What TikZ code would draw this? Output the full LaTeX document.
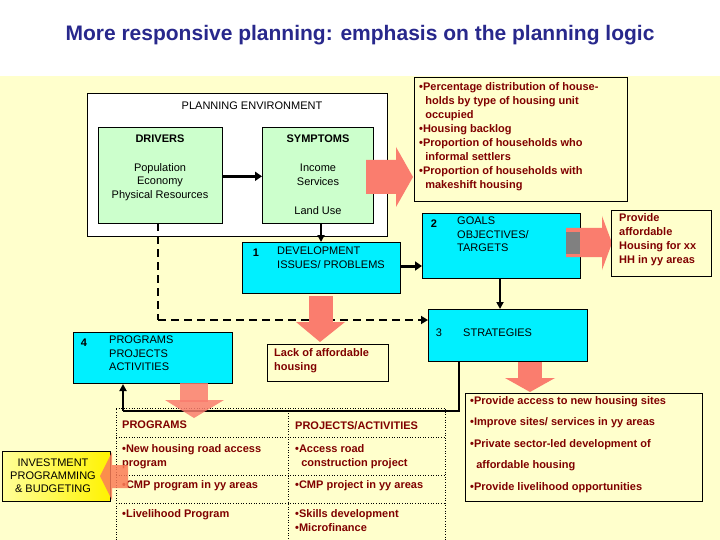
\documentclass[tikz,border=0pt]{standalone}
\usepackage{fontspec}
\setmainfont{Liberation Sans}
\usetikzlibrary{arrows.meta,shapes.arrows}
\definecolor{bgy}{RGB}{255,255,204}
\definecolor{cy}{RGB}{0,240,255}
\definecolor{gr}{RGB}{204,255,204}
\definecolor{pk}{RGB}{250,125,110}
\definecolor{dr}{RGB}{128,0,0}
\definecolor{ttl}{RGB}{40,40,140}
\newcommand{\bl}{{\fontsize{11}{11}\selectfont •}}
\tikzset{
 cbox/.style={draw=black,fill=cy,line width=1pt,anchor=north west,inner sep=0pt},
 gbox/.style={draw=black,fill=gr,line width=0.6pt,anchor=north west,inner sep=0pt},
 rbox/.style={draw=black,fill=bgy,line width=0.6pt,anchor=north west,inner sep=0pt},
 txt/.style={font=\fontsize{11}{13.5}\selectfont,align=left,inner sep=0pt},
 rtxt/.style={font=\fontsize{11}{14}\selectfont\bfseries,text=dr,align=left,inner sep=0pt,anchor=north west},
 ar/.style={-{Triangle[length=7pt,width=9pt]},line width=3pt},
 thin/.style={-{Triangle[length=7pt,width=7pt]},line width=2.2pt},
 tb/.style={draw=black,dotted,line width=0.6pt}
}
\begin{document}
\begin{tikzpicture}[x=1pt,y=-1pt]
\useasboundingbox (0,0) rectangle (720,540);
\fill[white] (0,0) rectangle (720,76);
\fill[bgy] (0,76) rectangle (720,540);
\node[font=\fontsize{21}{24}\selectfont\bfseries,text=ttl] (title) at (360,35) {More responsive planning: emphasis on the planning logic};
% planning environment
\node[draw=black,fill=white,line width=0.6pt,anchor=north west,minimum width=300pt,minimum height=143pt] (env) at (87,93) {};
\node[txt] (envt) at (252,106) {PLANNING ENVIRONMENT};
\node[gbox,minimum width=124pt,minimum height=96pt] (drv) at (98,127) {};
\node[gbox,minimum width=111pt,minimum height=96pt] (sym) at (262,127) {};
\node[txt,font=\fontsize{11}{13}\selectfont\bfseries] (drvh) at (160,139) {DRIVERS};
\node[txt,align=center] (drvt) at (160,182) {Population\\Economy\\Physical Resources};
\node[txt,font=\fontsize{11}{13}\selectfont\bfseries] (symh) at (318,139) {SYMPTOMS};
\node[txt,align=center] (symt) at (318,175) {Income\\Services};
\node[txt] (symt2) at (318,211) {Land Use};
\draw[ar] (drv.east) ++(0,1) coordinate (d1) -- (sym.west|-d1);
% pink arrow from symptoms
\fill[pk] (366,160) -- (396,160) -- (396,147) -- (413,177) -- (396,207) -- (396,194) -- (366,194) -- cycle;
\node[rbox,minimum width=213pt,minimum height=124pt] (ind) at (414,77) {};
\node[rtxt] (indt) at (419,82) {\bl Percentage distribution of house-\\\ \ holds by type of housing unit\\\ \ occupied\\\bl Housing backlog\\\bl Proportion of households who\\\ \ informal settlers\\\bl Proportion of households with\\\ \ makeshift housing};
% dev issues
\node[cbox,minimum width=158pt,minimum height=51pt] (dev) at (242,242) {};
\node[txt,font=\fontsize{11}{13}\selectfont\bfseries] (n1) at (256,253) {1};
\node[txt,anchor=north west] (devt) at (277,247) {DEVELOPMENT\\ISSUES/ PROBLEMS};
\draw[thin] (321,223) -- (dev.north-|321,0);
% goals
\node[cbox,minimum width=158pt,minimum height=65pt] (goal) at (422,213) {};
\node[txt,font=\fontsize{11}{13}\selectfont\bfseries] (n2) at (434,224) {2};
\node[txt,anchor=north west] (goalt) at (457,217) {GOALS\\OBJECTIVES/\\TARGETS};
\draw[ar] (dev.east|-0,266) -- (goal.west|-0,266);
\fill[pk] (566,228) -- (602,228) -- (602,216) -- (612,243) -- (602,270) -- (602,257) -- (566,257) -- cycle;
\fill[gray] (566,232) rectangle (580,254);
\node[rbox,minimum width=100pt,minimum height=66pt] (prov) at (611,210) {};
\node[rtxt] (provt) at (619,213) {Provide\\affordable\\Housing for xx\\HH in yy areas};
% strategies
\node[cbox,minimum width=159pt,minimum height=52pt] (str) at (428,309) {};
\node[txt] (n3) at (439,333) {3};
\node[txt,anchor=west] (strt) at (463,333) {STRATEGIES};
\draw[thin] (500,278) -- (str.north-|500,0);
% programs
\node[cbox,minimum width=159pt,minimum height=51pt] (prog) at (73,332) {};
\node[txt,font=\fontsize{11}{13}\selectfont\bfseries] (n4) at (84,343) {4};
\node[txt,anchor=north west] (progt) at (109,336) {PROGRAMS\\PROJECTS\\ACTIVITIES};
% dashed
\draw[line width=2.5pt,dash pattern=on 8pt off 5pt] (158,223) -- (158,320) coordinate (dc);
\draw[line width=2.5pt,dash pattern=on 8pt off 5pt,-{Triangle[length=7pt,width=8pt]}] (dc) -- (str.west|-dc);
% lack
\fill[pk] (309,296) rectangle (333,324);
\fill[pk] (296,322) -- (345,322) -- (320,342) -- cycle;
\node[rbox,minimum width=121pt,minimum height=37pt] (lack) at (267,344) {};
\node[rtxt] (lackt) at (274,348) {Lack of affordable\\housing};
% feedback line
\draw[line width=2.5pt] (459,361) -- (459,411) coordinate (fb1) -- (123,411) coordinate (fb2);
\draw[thin] (fb2) -- (123,384);
% pink to strategies list
\fill[pk] (518,362) rectangle (542,380);
\fill[pk] (505,378) -- (555,378) -- (530,392) -- cycle;
\node[rbox,minimum width=237pt,minimum height=108pt] (list) at (465,393) {};
\node[rtxt,font=\fontsize{11}{21.5}\selectfont\bfseries,anchor=north west] (listt) at (470,396) {\bl Provide access to new housing sites\\\bl Improve sites/ services in yy areas\\\bl Private sector-led development of\\\ \ affordable housing\\\bl Provide livelihood opportunities};
% table
\draw[tb] (116,408) -- (445,408) -- (445,540);
\draw[tb] (116,540) -- (116,408);
\draw[tb] (288,408) -- (288,540);
\draw[tb] (116,437) -- (445,437);
\draw[tb] (116,475) -- (445,475);
\draw[tb] (116,503) -- (445,503);
\node[rtxt] (t1) at (122,421) {PROGRAMS};
\node[rtxt] (t2) at (295,421) {PROJECTS/ACTIVITIES};
\node[rtxt] (t3) at (122,444) {\bl New housing road access\\program};
\node[rtxt] (t4) at (295,444) {\bl Access road\\\ \ construction project};
\node[rtxt] (t5) at (122,480) {\bl CMP program in yy areas};
\node[rtxt] (t6) at (295,480) {\bl CMP project in yy areas};
\node[rtxt] (t7) at (122,509) {\bl Livelihood Program};
\node[rtxt] (t8) at (295,509) {\bl Skills development\\\bl Microfinance};
% pink from programs
\fill[pk,opacity=0.85] (180,383) rectangle (208,402);
\fill[pk,opacity=0.85] (165,400) -- (224,400) -- (194,418) -- cycle;
% investment
\node[draw=black,line width=0.6pt,left color=yellow!40,right color=yellow!90!orange,anchor=north west,minimum width=108pt,minimum height=50pt,inner sep=0pt] (inv) at (2,451) {};
\node[font=\fontsize{11}{13}\selectfont,align=center,inner sep=0pt] (invt) at (53,476) {INVESTMENT\\PROGRAMMING\\\& BUDGETING};
\fill[pk!80!orange,opacity=0.85] (128,465) -- (112,465) -- (112,452) -- (100,476) -- (112,500) -- (112,488) -- (128,488) -- cycle;
\end{tikzpicture}
\end{document}
